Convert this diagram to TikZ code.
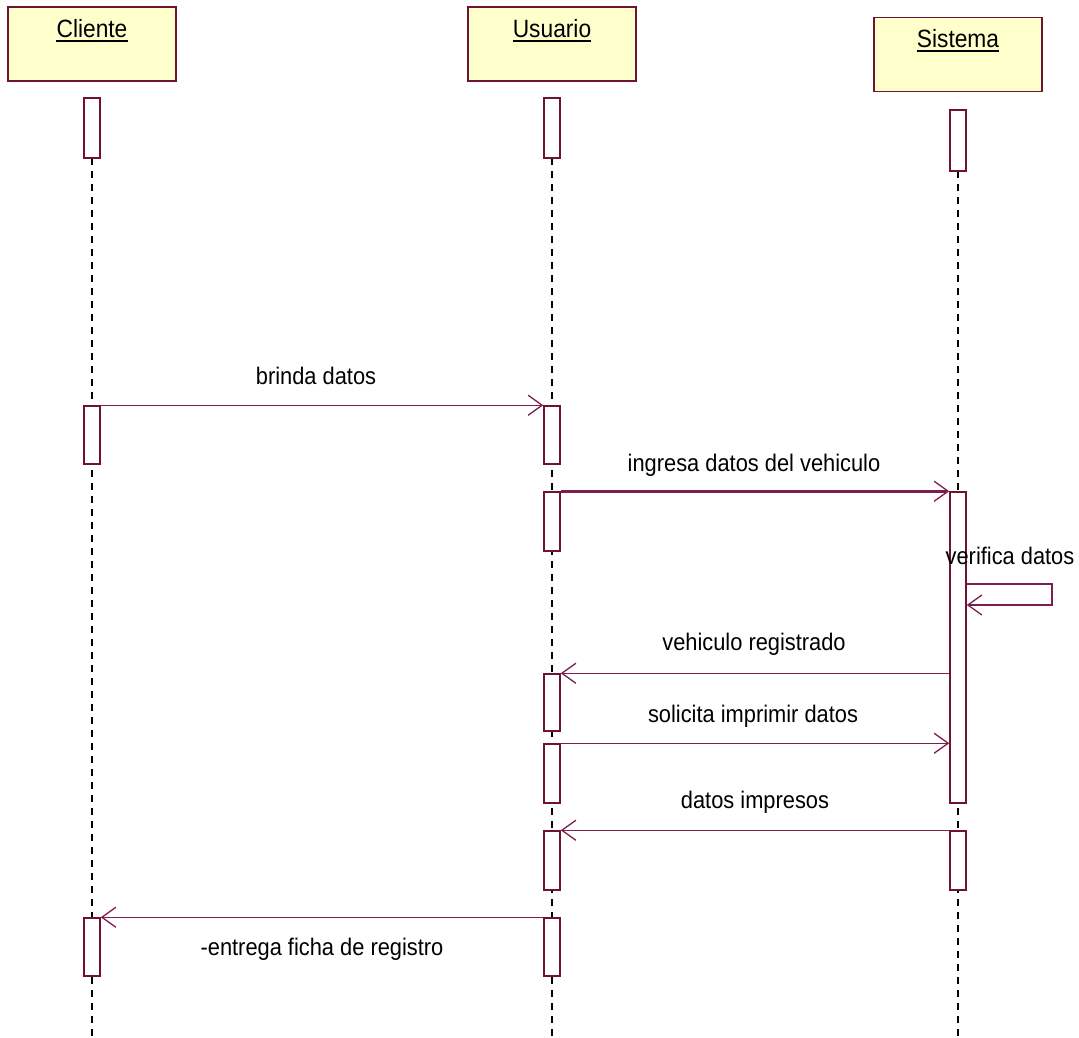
\documentclass[tikz,border=0pt]{standalone}
\usepackage{fontspec}
\setmainfont[FakeStretch=0.91]{Liberation Sans}
\usetikzlibrary{arrows.meta}
\definecolor{objfill}{RGB}{255,255,204}
\definecolor{objline}{RGB}{110,20,50}
\definecolor{msgline}{RGB}{125,30,80}
\begin{document}
\begin{tikzpicture}[x=1pt,y=-1pt,
  every node/.style={font=\fontsize{24}{28}\selectfont},
  obj/.style={draw=objline,fill=objfill,line width=1.8pt,minimum width=168,minimum height=74,inner sep=0pt},
  objname/.style={anchor=base,inner sep=0pt,font=\fontsize{25}{29}\selectfont},
  uline/.style={line width=2pt},
  act/.style={draw=objline,fill=white,line width=1.5pt,minimum width=16,inner sep=0pt},
  life/.style={black,dash pattern=on 7pt off 6pt,line width=#1},
  life/.default=1.6pt,
  msg/.style={draw=msgline,line width=1.5pt,-{Straight Barb[length=14pt,width=20pt,line width=1.3pt]}},
  lbl/.style={anchor=base,inner sep=0pt}]
\useasboundingbox (0,0) rectangle (1079,1038);

% objects
\node[obj] (cliente) at (92,44) {};
\node[obj] (usuario) at (552,44) {};
\node[obj] (sistema) at (958,54.5) {};
\node[objname] (clienteL) at (92,38) {Cliente};
\node[objname] (usuarioL) at (552,38) {Usuario};
\node[objname] (sistemaL) at (958,48) {Sistema};
\foreach \n in {clienteL,usuarioL,sistemaL}
  \draw[uline] ([yshift=-3pt]\n.south west) -- ([yshift=-3pt]\n.south east);

% lifelines
\coordinate (cEnd) at (92,1038);
\coordinate (uEnd) at (552,1038);
\coordinate (sEnd) at (958,1038);
\draw[life=1.1pt] (92,158) -- (cEnd);
\draw[life] (552,158) -- (uEnd);
\draw[life] (958,171) -- (sEnd);

% activations: Cliente
\node[act,minimum height=60] (c1) at (92,128) {};
\node[act,minimum height=58] (c2) at (92,435) {};
\node[act,minimum height=58] (c3) at (92,947) {};
% activations: Usuario
\node[act,minimum height=60] (u1) at (552,128) {};
\node[act,minimum height=58] (u2) at (552,435) {};
\node[act,minimum height=59] (u3) at (552,521.5) {};
\node[act,minimum height=57] (u4) at (552,702.5) {};
\node[act,minimum height=59] (u5) at (552,773.5) {};
\node[act,minimum height=59] (u6) at (552,860.5) {};
\node[act,minimum height=58] (u7) at (552,947) {};
% activations: Sistema
\node[act,minimum height=61] (s1) at (958,140.5) {};
\node[act,minimum height=311] (s2) at (958,647.5) {};
\node[act,minimum height=59] (s3) at (958,860.5) {};

% messages
\draw[msg] (c2.north east) -- (u2.north west);
\node[lbl] (m1) at (316,384) {brinda datos};

\draw[msg,line width=2.6pt] (u3.north east) -- (s2.north west);
\node[lbl] (m2) at (754,471) {ingresa datos del vehiculo};

\coordinate (loopT) at (1052,584);
\coordinate (loopB) at (1052,605);
\draw[msg] (s2.east |- loopT) -- (loopT) -- (loopB) -- (s2.east |- loopB);
\node[lbl] (m3) at (1010,564) {verifica datos};

\draw[msg] (s2.west |- u4.north) -- (u4.north east);
\node[lbl] (m4) at (754,650) {vehiculo registrado};

\draw[msg] (u5.north east) -- (s2.west |- u5.north);
\node[lbl] (m5) at (753,722) {solicita imprimir datos};

\draw[msg] (s3.north west) -- (u6.north east);
\node[lbl] (m6) at (755,808) {datos impresos};

\draw[msg] (u7.north west) -- (c3.north east);
\node[lbl] (m7) at (322,955) {-entrega ficha de registro};
\end{tikzpicture}
\end{document}
